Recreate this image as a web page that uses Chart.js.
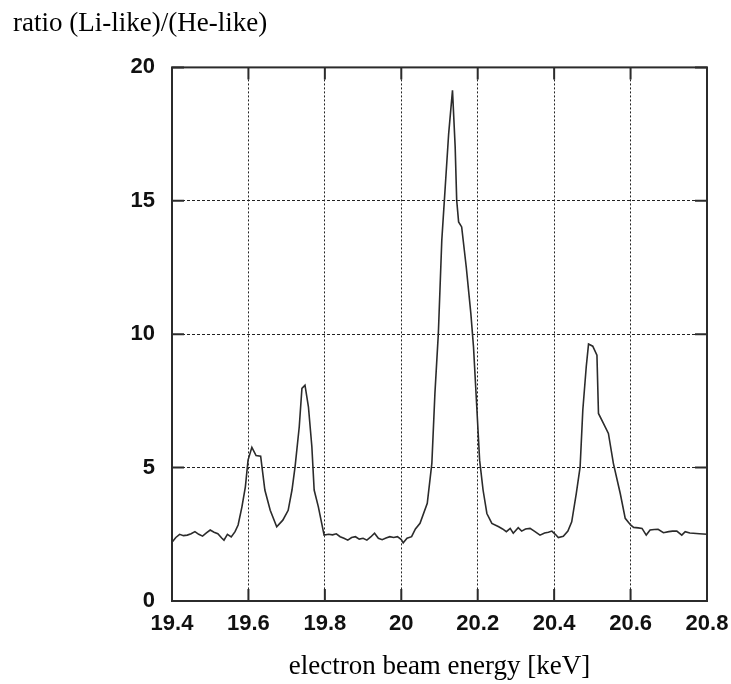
<!DOCTYPE html>
<html lang="en">
<head>
<meta charset="utf-8">
<title>ratio (Li-like)/(He-like)</title>
<script src="https://cdn.jsdelivr.net/npm/chart.js@4.4.1/dist/chart.umd.min.js"></script>
<style>
  html, body { margin: 0; padding: 0; background: #fff; }
  #grafico { display: block; }
</style>
</head>
<body>
<canvas id="grafico" width="731" height="684"></canvas>
<script>
// ==========================
// DADOS
// ==========================
const energia = [
  19.400, 19.410, 19.420, 19.430, 19.440, 19.450, 19.460, 19.470, 19.480, 19.490,
  19.500, 19.510, 19.520, 19.530, 19.536, 19.545, 19.555, 19.565, 19.573, 19.583,
  19.592, 19.599, 19.609, 19.620, 19.632, 19.643, 19.657, 19.674, 19.690, 19.704,
  19.714, 19.722, 19.733, 19.740, 19.748, 19.757, 19.766, 19.772, 19.783, 19.798,
  19.810, 19.820, 19.830, 19.840, 19.850, 19.860, 19.870, 19.880, 19.890, 19.900,
  19.910, 19.920, 19.930, 19.940, 19.950, 19.960, 19.970, 19.980, 19.990, 20.000,
  20.005, 20.015, 20.027, 20.037, 20.049, 20.068, 20.080, 20.088, 20.097, 20.106,
  20.115, 20.124, 20.134, 20.141, 20.145, 20.150, 20.158, 20.170, 20.182, 20.189,
  20.198, 20.205, 20.214, 20.224, 20.237, 20.255, 20.265, 20.275, 20.285, 20.293,
  20.306, 20.315, 20.325, 20.337, 20.350, 20.363, 20.375, 20.385, 20.394, 20.403,
  20.411, 20.424, 20.436, 20.446, 20.458, 20.468, 20.475, 20.484, 20.490, 20.501,
  20.512, 20.516, 20.529, 20.542, 20.555, 20.573, 20.586, 20.600, 20.608, 20.620,
  20.630, 20.641, 20.651, 20.662, 20.672, 20.686, 20.700, 20.710, 20.721, 20.734,
  20.743, 20.755, 20.764, 20.780, 20.800,
];

const razao = [
  2.20, 2.38, 2.50, 2.45, 2.47, 2.52, 2.60, 2.50, 2.43, 2.55,
  2.66, 2.58, 2.52, 2.36, 2.28, 2.50, 2.40, 2.60, 2.85, 3.53,
  4.28, 5.28, 5.76, 5.45, 5.43, 4.16, 3.40, 2.78, 3.03, 3.40,
  4.16, 5.03, 6.53, 7.97, 8.09, 7.28, 5.78, 4.16, 3.53, 2.47,
  2.50, 2.48, 2.52, 2.41, 2.35, 2.28, 2.38, 2.41, 2.32, 2.35,
  2.28, 2.40, 2.54, 2.35, 2.30, 2.36, 2.41, 2.38, 2.41, 2.30,
  2.18, 2.35, 2.41, 2.70, 2.91, 3.66, 5.16, 7.78, 10.03, 13.52,
  15.52, 17.52, 19.14, 17.02, 15.02, 14.21, 14.02, 12.52, 10.78, 9.52,
  7.15, 5.28, 4.16, 3.28, 2.91, 2.78, 2.70, 2.60, 2.72, 2.54,
  2.75, 2.62, 2.70, 2.72, 2.60, 2.47, 2.55, 2.58, 2.62, 2.50,
  2.38, 2.43, 2.62, 2.97, 4.03, 5.03, 7.15, 8.78, 9.63, 9.55,
  9.21, 7.03, 6.66, 6.28, 5.16, 4.03, 3.10, 2.85, 2.76, 2.74,
  2.72, 2.47, 2.66, 2.68, 2.69, 2.56, 2.60, 2.62, 2.62, 2.47,
  2.60, 2.55, 2.54, 2.52, 2.50,
];

const ticksEnergia = [19.4, 19.6, 19.8, 20.0, 20.2, 20.4, 20.6, 20.8];
const ticksRazao = [0, 5, 10, 15, 20];

// ==========================
// ESTILO
// ==========================
const COR_TRACO = "#2b2b2b";
const FONTE_TICKS = {
  family: "'Liberation Sans Narrow', 'Liberation Sans', sans-serif",
  size: 22,
  weight: "bold",
};
const FONTE_TITULO = {
  family: "'Liberation Serif', 'Times New Roman', serif",
  size: 27,
  weight: "normal",
};

// moldura fechada + marcas para dentro nos quatro lados
const molduraComMarcas = {
  id: "molduraComMarcas",
  afterDatasetsDraw(chart) {
    const { ctx, chartArea: a, scales } = chart;
    const tam = 12;
    ctx.save();
    ctx.strokeStyle = COR_TRACO;
    ctx.lineWidth = 2;
    ctx.beginPath();
    ticksEnergia.forEach((v) => {
      const px = scales.x.getPixelForValue(v);
      ctx.moveTo(px, a.top);
      ctx.lineTo(px, a.top + tam);
      ctx.moveTo(px, a.bottom);
      ctx.lineTo(px, a.bottom - tam);
    });
    ticksRazao.forEach((v) => {
      const py = scales.y.getPixelForValue(v);
      ctx.moveTo(a.left, py);
      ctx.lineTo(a.left + tam, py);
      ctx.moveTo(a.right, py);
      ctx.lineTo(a.right - tam, py);
    });
    ctx.stroke();
    ctx.strokeRect(a.left, a.top, a.right - a.left, a.bottom - a.top);
    ctx.restore();
  },
};

const formatarTick = (v) => String(Number(Number(v).toFixed(1)));

// ==========================
// GRÁFICO
// ==========================
new Chart(document.getElementById("grafico"), {
  type: "line",
  data: {
    datasets: [
      {
        label: "ratio",
        data: energia.map((x, i) => ({ x, y: razao[i] })),
        borderColor: COR_TRACO,
        borderWidth: 1.6,
        pointRadius: 0,
        fill: false,
        tension: 0,
      },
    ],
  },
  options: {
    responsive: false,
    animation: false,
    devicePixelRatio: 1,
    layout: { padding: { left: 13, right: 24, top: 0, bottom: 0 } },
    plugins: {
      legend: { display: false },
      tooltip: { enabled: false },
      title: {
        display: true,
        text: "ratio (Li-like)/(He-like)",
        align: "start",
        color: "#000",
        font: FONTE_TITULO,
        padding: { top: 8, bottom: 27 },
      },
    },
    scales: {
      x: {
        type: "linear",
        min: 19.4,
        max: 20.8,
        afterBuildTicks: (s) => {
          s.ticks = ticksEnergia.map((value) => ({ value }));
        },
        afterFit: (s) => {
          s.height = 83;
          s.paddingLeft = 0;
          s.paddingRight = 0;
        },
        ticks: {
          color: "#111",
          font: FONTE_TICKS,
          padding: 10,
          maxRotation: 0,
          autoSkip: false,
          callback: formatarTick,
        },
        grid: { color: "#222", lineWidth: 1, drawTicks: false },
        border: { display: false, dash: [2, 2] },
        title: {
          display: true,
          text: "electron beam energy [keV]",
          color: "#000",
          font: FONTE_TITULO,
          padding: { top: 0, bottom: 1 },
        },
      },
      y: {
        min: 0,
        max: 20,
        afterBuildTicks: (s) => {
          s.ticks = ticksRazao.map((value) => ({ value }));
        },
        afterFit: (s) => {
          s.width = 159;
        },
        ticks: {
          color: "#111",
          font: FONTE_TICKS,
          padding: 17,
          callback: formatarTick,
        },
        grid: { color: "#222", lineWidth: 1, drawTicks: false },
        border: { display: false, dash: [3, 2] },
      },
    },
  },
  plugins: [molduraComMarcas],
});
</script>
</body>
</html>
